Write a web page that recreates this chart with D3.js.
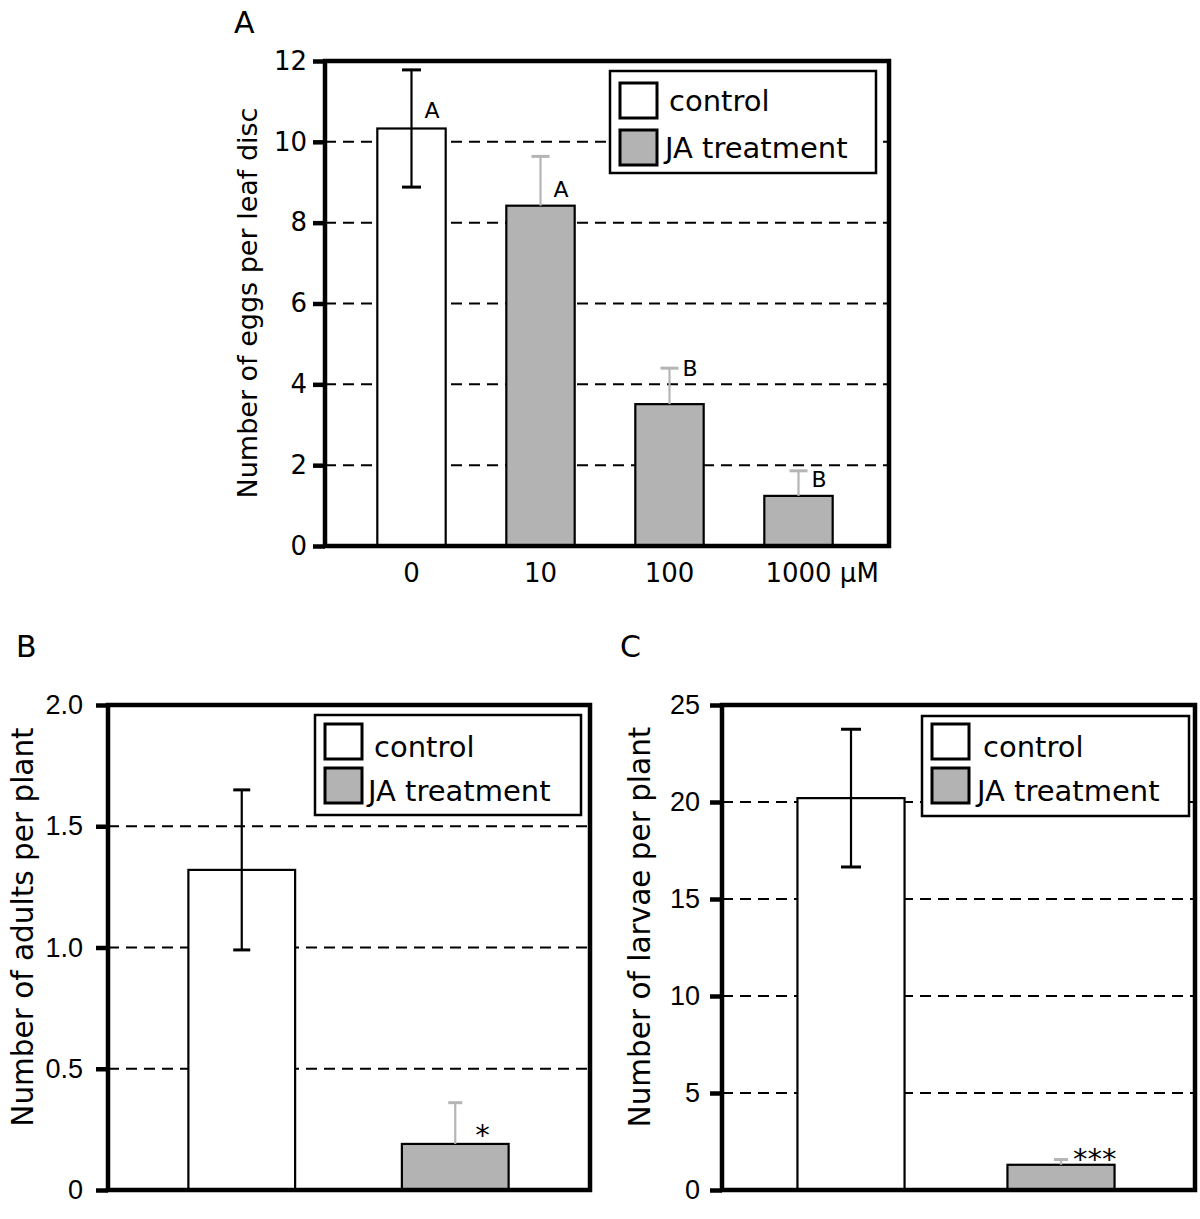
<!DOCTYPE html>
<html><head><meta charset="utf-8">
<script src="https://cdn.jsdelivr.net/npm/d3@7"></script>
<style>body{margin:0;background:#fff}svg{display:block}</style>
</head><body>
<script>
// ---- data ----
const catsA = ["0", "10", "100", "1000 μM"];
const groupA = ["control", "JA", "JA", "JA"];
const valsA = [10.33, 8.42, 3.51, 1.24];
const semA = [1.45, 1.22, 0.89, 0.62];
const lettersA = ["A", "A", "B", "B"];
const letterYA = [10.6, 8.63, 4.2, 1.46];
const ticksA = [0, 2, 4, 6, 8, 10, 12];
const tickLabelsA = ["0", "2", "4", "6", "8", "10", "12"];

const catsB = ["control", "JA treatment"];
const groupB = ["control", "JA"];
const valsB = [1.32, 0.19];
const semB = [0.33, 0.17];
const marksB = ["", "*"];
const ticksB = [0, 0.5, 1.0, 1.5, 2.0];
const tickLabelsB = ["0", "0.5", "1.0", "1.5", "2.0"];

const catsC = ["control", "JA treatment"];
const groupC = ["control", "JA"];
const valsC = [20.2, 1.3];
const semC = [3.55, 0.27];
const marksC = ["", "***"];
const ticksC = [0, 5, 10, 15, 20, 25];
const tickLabelsC = ["0", "5", "10", "15", "20", "25"];

const legendItems = ["control", "JA treatment"];

const W = 1200, H = 1219;
const svg = d3.select("body").append("svg").attr("width", W).attr("height", H);
const jp = "'DejaVu Sans', sans-serif";
const hel = "'Liberation Sans', Arial, sans-serif";
const GRAY = "#b3b3b3";
const EGRAY = "#b5b5b5";

function panel(o) {
  const g = svg.append("g");
  const y = d3.scaleLinear().domain(o.domain).range([o.bottom, o.top]);
  const x = d3.scaleBand().domain(o.cats).range(o.xr).paddingInner(o.pad).paddingOuter(o.pad / 2);
  // panel letter
  g.append("text").attr("x", o.labelPos[0]).attr("y", o.labelPos[1])
    .attr("font-family", jp).attr("font-size", 30).text(o.panelLabel);
  // gridlines
  g.append("g").selectAll("line").data(o.ticks.filter(t => t > o.domain[0] && t < o.domain[1]))
    .join("line").attr("x1", o.left).attr("x2", o.right)
    .attr("y1", d => y(d)).attr("y2", d => y(d))
    .attr("stroke", "#000").attr("stroke-width", 2).attr("stroke-dasharray", "11,7");
  // bars
  g.append("g").selectAll("rect").data(o.vals).join("rect")
    .attr("x", (d, i) => x(o.cats[i])).attr("width", x.bandwidth())
    .attr("y", d => y(d)).attr("height", d => o.bottom - y(d))
    .attr("fill", (d, i) => o.groups[i] === "control" ? "#fff" : GRAY)
    .attr("stroke", "#000").attr("stroke-width", 2.2);
  // error bars
  o.vals.forEach((v, i) => {
    const cx = x(o.cats[i]) + x.bandwidth() / 2;
    const ctrl = o.groups[i] === "control";
    const col = ctrl ? "#000" : EGRAY;
    const lo = ctrl ? v - o.sem[i] : v;
    const hi = v + o.sem[i];
    const cap = ctrl ? o.capC : o.capT;
    g.append("line").attr("x1", cx).attr("x2", cx).attr("y1", y(lo)).attr("y2", y(hi))
      .attr("stroke", col).attr("stroke-width", 2.2);
    g.append("line").attr("x1", cx - cap / 2).attr("x2", cx + cap / 2).attr("y1", y(hi)).attr("y2", y(hi))
      .attr("stroke", col).attr("stroke-width", 3);
    if (ctrl) g.append("line").attr("x1", cx - cap / 2).attr("x2", cx + cap / 2).attr("y1", y(lo)).attr("y2", y(lo))
      .attr("stroke", col).attr("stroke-width", 3);
  });
  // letters / marks
  o.letters.forEach((t, i) => {
    if (!t) return;
    const cx = x(o.cats[i]) + x.bandwidth() / 2;
    g.append("text").attr("x", cx + o.letterDx).attr("y", y(o.letterY[i]))
      .attr("font-family", o.letterFont).attr("font-size", o.letterSize).text(t);
  });
  // frame
  g.append("rect").attr("x", o.left).attr("y", o.top).attr("width", o.right - o.left).attr("height", o.bottom - o.top)
    .attr("fill", "none").attr("stroke", "#000").attr("stroke-width", 4.5);
  // y axis
  const ax = d3.axisLeft(y).tickValues(o.ticks).tickFormat((d, i) => o.tickLabels[i]).tickSize(12).tickPadding(o.tickPad);
  const ag = g.append("g").attr("transform", `translate(${o.left},0)`).call(ax);
  ag.select(".domain").remove();
  ag.selectAll(".tick line").attr("stroke", "#000").attr("stroke-width", 4.5);
  ag.selectAll(".tick text").attr("font-family", o.tickFont).attr("font-size", o.tickSize).attr("fill", "#000");
  // x labels (number centered under bar, unit trailing)
  if (o.showX) {
    o.cats.forEach((c, i) => {
      const cx = x(c) + x.bandwidth() / 2;
      const num = c.split(" ")[0];
      const tmp = g.append("text").attr("font-family", jp).attr("font-size", 26).text(num);
      const wNum = tmp.node().getComputedTextLength();
      tmp.remove();
      g.append("text").attr("x", cx - wNum / 2).attr("y", o.bottom + 36)
        .attr("font-family", jp).attr("font-size", 26).text(c);
    });
  }
  // axis title
  g.append("text").attr("transform", `translate(${o.titleX},${o.titleY}) rotate(-90)`)
    .attr("text-anchor", "middle").attr("font-family", jp).attr("font-size", o.titleSize).text(o.title);
  // legend
  const L = o.legend;
  g.append("rect").attr("x", L.x).attr("y", L.y).attr("width", L.w).attr("height", L.h)
    .attr("fill", "#fff").attr("stroke", "#000").attr("stroke-width", 2.5);
  legendItems.forEach((t, i) => {
    g.append("rect").attr("x", L.sx).attr("y", L.sy + i * L.dy).attr("width", 37).attr("height", 35)
      .attr("fill", i === 0 ? "#fff" : GRAY).attr("stroke", "#000").attr("stroke-width", 3);
    g.append("text").attr("x", L.tx[i]).attr("y", L.ty + i * L.dy)
      .attr("font-family", jp).attr("font-size", 29).text(t);
  });
}

panel({
  panelLabel: "A", labelPos: [234, 33],
  left: 325, right: 889, top: 61, bottom: 546,
  domain: [0, 12], ticks: ticksA, tickLabels: tickLabelsA, tickFont: jp, tickSize: 26, tickPad: 6,
  cats: catsA, groups: groupA, vals: valsA, sem: semA, xr: [347, 863], pad: 0.47,
  capC: 19, capT: 18,
  letters: lettersA, letterY: letterYA, letterDx: 13, letterFont: jp, letterSize: 22,
  showX: true,
  title: "Number of eggs per leaf disc", titleSize: 27, titleX: 257, titleY: 303,
  legend: { x: 610, y: 71, w: 266, h: 102, sx: 620, sy: 83, dy: 47, tx: [669, 665], ty: 111 }
});

panel({
  panelLabel: "B", labelPos: [16, 657],
  left: 108, right: 590, top: 705, bottom: 1190,
  domain: [0, 2], ticks: ticksB, tickLabels: tickLabelsB, tickFont: hel, tickSize: 27, tickPad: 13,
  cats: catsB, groups: groupB, vals: valsB, sem: semB, xr: [135, 562], pad: 0.5,
  capC: 17, capT: 14,
  letters: marksB, letterY: [0, 0.186], letterDx: 20, letterFont: jp, letterSize: 29,
  showX: false,
  title: "Number of adults per plant", titleSize: 29.5, titleX: 33, titleY: 927,
  legend: { x: 315, y: 715, w: 266, h: 100, sx: 325, sy: 724, dy: 44, tx: [374, 368], ty: 757 }
});

panel({
  panelLabel: "C", labelPos: [620, 657],
  left: 722, right: 1195, top: 705, bottom: 1190,
  domain: [0, 25], ticks: ticksC, tickLabels: tickLabelsC, tickFont: hel, tickSize: 27, tickPad: 10,
  cats: catsC, groups: groupC, vals: valsC, sem: semC, xr: [746, 1166], pad: 0.49,
  capC: 20, capT: 14,
  letters: marksC, letterY: [0, 1.08], letterDx: 12, letterFont: jp, letterSize: 29,
  showX: false,
  title: "Number of larvae per plant", titleSize: 29.5, titleX: 650, titleY: 927,
  legend: { x: 922, y: 716, w: 267, h: 100, sx: 932, sy: 724, dy: 44, tx: [983, 977], ty: 757 }
});
</script>
</body></html>
